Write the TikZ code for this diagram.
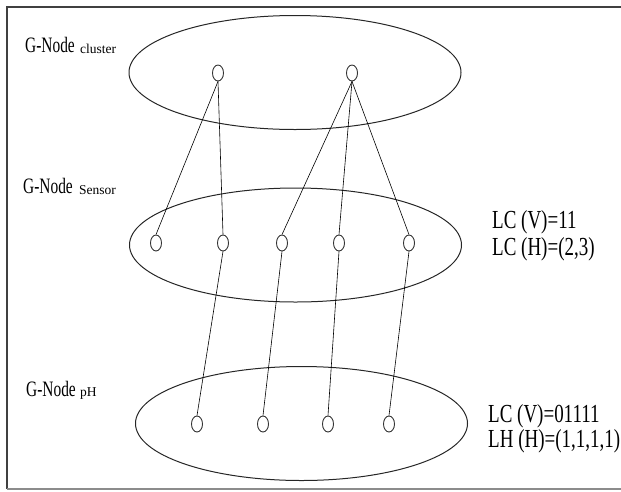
\documentclass[tikz,border=0pt]{standalone}
\usepackage{fontspec}
\setmainfont{Liberation Serif}
\usetikzlibrary{shapes.geometric}
\begin{document}
\begin{tikzpicture}[x=1pt,y=-1pt,
  layer/.style={draw=black!85, line width=1pt, ellipse, inner sep=0pt, minimum width=332pt, minimum height=114pt},
  dotnode/.style={draw=black!80, line width=0.9pt, ellipse, inner sep=0pt, minimum width=11pt, minimum height=16pt},
  link/.style={draw=black, line width=0.6pt},
  lbl/.style={anchor=base west, inner sep=0pt, font=\fontsize{22}{22}\selectfont},
  subl/.style={anchor=base west, inner sep=0pt, font=\fontsize{13.5}{13.5}\selectfont},
  info/.style={anchor=base west, inner sep=0pt, font=\fontsize{26}{26}\selectfont},
  framedark/.style={draw=black!75, line width=1.8pt},
  framelight/.style={draw=black!45, line width=1.2pt}]
\useasboundingbox (0,0) rectangle (621,491);
% frame (open on the right)
\draw[framedark] (621,7) -- (7,7) -- (7,489);
\draw[framelight] (7,489) -- (621,489);

% layers
\node[layer] (Lc) at (295,72.5) {};
\node[layer] (Ls) at (295.5,245) {};
\node[layer] (Lp) at (301.5,423.5) {};

% cluster nodes
\node[dotnode] (c1) at (218,73) {};
\node[dotnode] (c2) at (352,73) {};
% sensor nodes
\node[dotnode] (s1) at (156,243) {};
\node[dotnode] (s2) at (223,243) {};
\node[dotnode] (s3) at (282,243) {};
\node[dotnode] (s4) at (339,243) {};
\node[dotnode] (s5) at (409,243) {};
% pH nodes
\node[dotnode] (p1) at (197,424) {};
\node[dotnode] (p2) at (263,424) {};
\node[dotnode] (p3) at (328,424) {};
\node[dotnode] (p4) at (389,424) {};

% connectors
\draw[link] (c1.south) -- (s1.north);
\draw[link] (c1.south) -- (s2.north);
\draw[link] (c2.south) -- (s3.north);
\draw[link] (c2.south) -- (s4.north);
\draw[link] (c2.south) -- (s5.north);
\draw[link] (s2.south) -- (p1.north);
\draw[link] (s3.south) -- (p2.north);
\draw[link] (s4.south) -- (p3.north);
\draw[link] (s5.south) -- (p4.north);

% labels
\node[lbl] (gc) at (25,52) {\scalebox{0.7}[1]{G-Node}};
\node[subl] (gcs) at (80,53.5) {cluster};
\node[lbl] (gs) at (23,193) {\scalebox{0.7}[1]{G-Node}};
\node[subl] (gss) at (79,194.5) {Sensor};
\node[lbl] (gp) at (26,396) {\scalebox{0.7}[1]{G-Node}};
\node[subl] (gps) at (80,396.5) {pH};

\node[info] (i1) at (492,228) {\scalebox{0.73}[1]{LC (V)=11}};
\node[info] (i2) at (492,255) {\scalebox{0.73}[1]{LC (H)=(2,3)}};
\node[info] (i3) at (488,422) {\scalebox{0.73}[1]{LC (V)=01111}};
\node[info] (i4) at (488,447) {\scalebox{0.73}[1]{LH (H)=(1,1,1,1)}};
\end{tikzpicture}
\end{document}
